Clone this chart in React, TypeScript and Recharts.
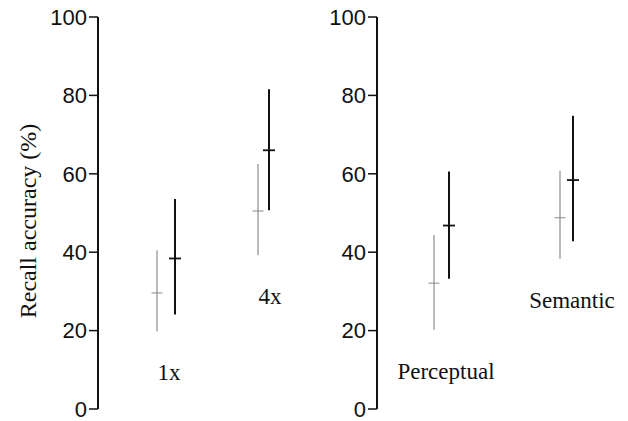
import { ComposedChart, Scatter, ErrorBar, XAxis, YAxis, Label } from "recharts";

// recall accuracy (%)
const leftConditions = ["1x", "4x"];
const leftGrayMean = [29.6, 50.5];
const leftGrayLow = [19.8, 39.2];
const leftGrayHigh = [40.5, 62.5];
const leftBlackMean = [38.4, 66.0];
const leftBlackLow = [24.1, 50.7];
const leftBlackHigh = [53.6, 81.6];

const rightConditions = ["Perceptual", "Semantic"];
const rightGrayMean = [32.1, 48.8];
const rightGrayLow = [20.2, 38.3];
const rightGrayHigh = [44.4, 60.8];
const rightBlackMean = [46.8, 58.4];
const rightBlackLow = [33.2, 42.8];
const rightBlackHigh = [60.6, 74.8];

const yTicks = [0, 20, 40, 60, 80, 100];

const GRAY = "#8c8c8c";
const BLACK = "#111";

const buildRows = (names: string[], mean: number[], low: number[], high: number[]) =>
  names.map((name, i) => ({
    idx: i + 1,
    name,
    mean: mean[i],
    low: low[i],
    err: [mean[i] - low[i], high[i] - mean[i]],
  }));

const tickShape = (color: string, w: number, len: number) => (props: any) => {
  const { cx, cy } = props;
  return <line x1={cx - len / 2} x2={cx + len / 2} y1={cy} y2={cy} stroke={color} strokeWidth={w} />;
};

const labelShape = (props: any) => {
  const { cx, cy, payload } = props;
  return (
    <text
      x={cx + 12}
      y={cy + 41}
      dy="0.35em"
      textAnchor="middle"
      fontFamily="'Liberation Serif', 'Times New Roman', serif"
      fontSize={23}
      fill="#111"
    >
      {payload.name}
    </text>
  );
};

interface PanelProps {
  width: number;
  axisWidth: number;
  gray: any[];
  black: any[];
  grayPad: { left: number; right: number };
  blackPad: { left: number; right: number };
  showLabel?: boolean;
}

const Panel = ({ width, axisWidth, gray, black, grayPad, blackPad, showLabel }: PanelProps) => (
  <ComposedChart width={width} height={421} margin={{ top: 17, right: 0, bottom: 12, left: 0 }}>
    <XAxis xAxisId="g" type="number" dataKey="idx" domain={[1, 2]} padding={grayPad} hide />
    <XAxis xAxisId="b" type="number" dataKey="idx" domain={[1, 2]} padding={blackPad} hide />
    <YAxis
      type="number"
      domain={[0, 100]}
      ticks={yTicks}
      interval={0}
      width={axisWidth}
      tickSize={9}
      tickMargin={2}
      axisLine={{ stroke: BLACK, strokeWidth: 2 }}
      tickLine={{ stroke: BLACK, strokeWidth: 1.5 }}
      tick={{ fill: BLACK, fontSize: 22, fontFamily: "'Liberation Sans', Arial, sans-serif" }}
    >
      {showLabel && (
        <Label
          value="Recall accuracy (%)"
          angle={-90}
          position="center"
          dx={-22}
          dy={8}
          style={{
            fontFamily: "'Liberation Serif', 'Times New Roman', serif",
            fontSize: 24,
            fill: BLACK,
            textAnchor: "middle",
          }}
        />
      )}
    </YAxis>
    <Scatter xAxisId="g" data={gray} dataKey="mean" shape={tickShape(GRAY, 1, 11)} isAnimationActive={false}>
      <ErrorBar dataKey="err" direction="y" width={0} stroke={GRAY} strokeWidth={1.2} />
    </Scatter>
    <Scatter xAxisId="b" data={black} dataKey="mean" shape={tickShape(BLACK, 1.8, 12)} isAnimationActive={false}>
      <ErrorBar dataKey="err" direction="y" width={0} stroke={BLACK} strokeWidth={2} />
    </Scatter>
    <Scatter xAxisId="g" data={gray} dataKey="low" shape={labelShape} isAnimationActive={false} />
  </ComposedChart>
);

export default function App() {
  const leftGray = buildRows(leftConditions, leftGrayMean, leftGrayLow, leftGrayHigh);
  const leftBlack = buildRows(leftConditions, leftBlackMean, leftBlackLow, leftBlackHigh);
  const rightGray = buildRows(rightConditions, rightGrayMean, rightGrayLow, rightGrayHigh);
  const rightBlack = buildRows(rightConditions, rightBlackMean, rightBlackLow, rightBlackHigh);

  return (
    <div style={{ position: "fixed", left: 0, top: 0, width: 628, height: 421, display: "flex", background: "#fff" }}>
      <Panel
        width={310}
        axisWidth={98}
        gray={leftGray}
        black={leftBlack}
        grayPad={{ left: 59, right: 52 }}
        blackPad={{ left: 77, right: 41 }}
        showLabel
      />
      <Panel
        width={318}
        axisWidth={67}
        gray={rightGray}
        black={rightBlack}
        grayPad={{ left: 57, right: 68 }}
        blackPad={{ left: 72, right: 55 }}
      />
    </div>
  );
}
